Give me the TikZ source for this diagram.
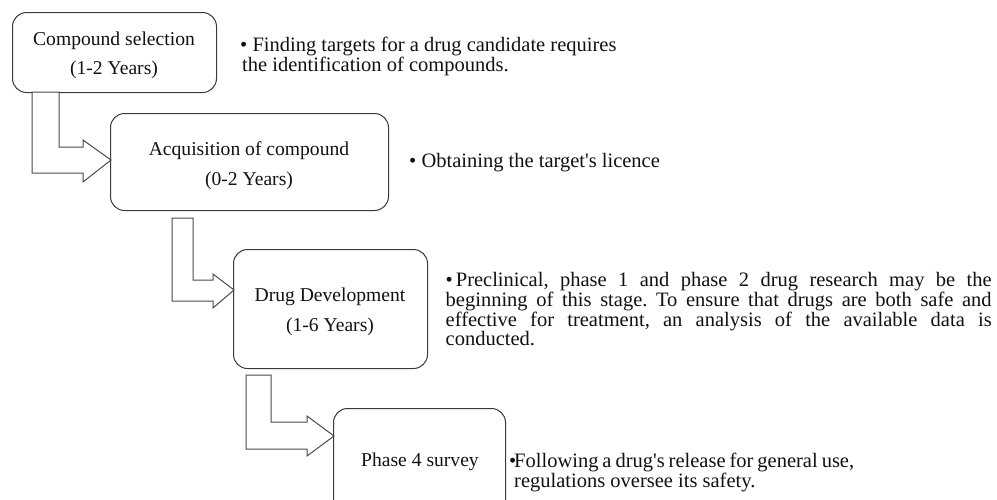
\documentclass[tikz,border=0pt]{standalone}
\usepackage{fontspec}
\setmainfont{Liberation Serif}[Ligatures=TeXOff]
\definecolor{boxc}{HTML}{3A3A3A}
\definecolor{arrc}{HTML}{4A4A4A}
\definecolor{txt}{HTML}{111111}
\tikzset{
  stage/.style={draw=boxc, line width=1pt, rounded corners=14pt, inner sep=0pt},
  stagelabel/.style={inner sep=0pt, text=txt, font=\fontsize{19.6}{30}\selectfont, anchor=base},
  blockarrow/.style={draw=arrc, line width=1pt, fill=white, line join=miter},
  bullettext/.style={inner sep=0pt, text=txt, font=\fontsize{20.5}{18}\selectfont\frenchspacing, anchor=north west},
}
\begin{document}
\begin{tikzpicture}[x=1pt,y=-1pt]
\useasboundingbox (0,0) rectangle (997,499);
\clip (0,0) rectangle (997,499);

% stages
\node[stage, minimum width=204pt, minimum height=80pt, anchor=north west] (s1) at (12,12) {};
\node[stage, minimum width=278pt, minimum height=97pt, anchor=north west] (s2) at (110,113) {};
\node[stage, minimum width=194pt, minimum height=119pt, anchor=north west] (s3) at (233,249) {};
\node[stage, minimum width=172pt, minimum height=130pt, anchor=north west] (s4) at (333,408) {};

\node[stagelabel] (s1a) at (114,45) {Compound selection};
\node[stagelabel] (s1b) at (114,74) {(1-2 Years)};
\node[stagelabel] (s2a) at (249,155) {Acquisition of compound};
\node[stagelabel] (s2b) at (249,185) {(0-2 Years)};
\node[stagelabel] (s3a) at (330,301) {Drug Development};
\node[stagelabel] (s3b) at (330,331) {(1-6 Years)};
\node[stagelabel] (s4a) at (420,466) {Phase 4 survey};

% bent block arrows
\draw[blockarrow] (32,92) -- (32,173) -- (83,173) -- (83,182) -- (111,160) -- (83,140)
  -- (83,147) -- (59,147) -- (59,92) -- cycle;
\draw[blockarrow] (172,218) -- (172,301) -- (213,301) -- (213,308) -- (234,290) -- (213,274)
  -- (213,280) -- (193,280) -- (193,218) -- cycle;
\draw[blockarrow] (246,375) -- (246,449) -- (307,449) -- (307,456) -- (334,436) -- (307,416)
  -- (307,422) -- (271,422) -- (271,375) -- cycle;

% descriptions
\node[bullettext, align=left] (t1) at (240,37)
  {\textbullet\ Finding targets for a drug candidate requires\\\hspace*{2pt}the identification of compounds.};
\node[bullettext] (t2) at (409,153) {\textbullet\ Obtaining the target's licence};
\node[bullettext, text width=546pt, align=justify] (t3) at (445.5,272)
  {\textbullet\kern3pt Preclinical, phase 1 and phase 2 drug research may be the\linebreak
   beginning of this stage. To ensure that drugs are both safe and\linebreak
   effective for treatment, an analysis of the available data is\linebreak
   conducted.};
\node[bullettext, text width=340pt, align=justify] (t4) at (514,453)
  {\llap{\textbullet\kern-2pt}Following a drug's release for general use,\linebreak
   regulations oversee its safety.};
\end{tikzpicture}
\end{document}
